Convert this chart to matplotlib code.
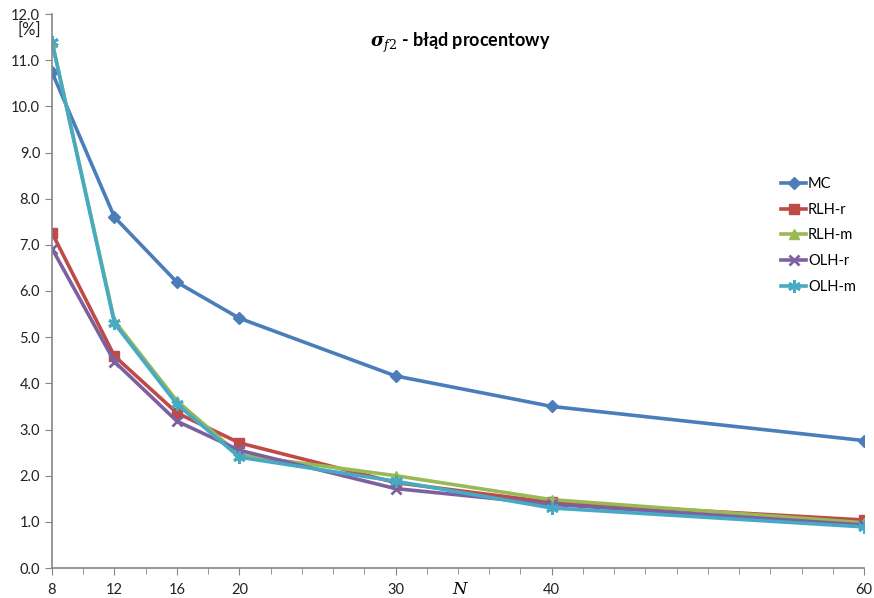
import matplotlib
matplotlib.use("Agg")
import matplotlib.pyplot as plt
from matplotlib.ticker import FixedLocator, MultipleLocator, FormatStrFormatter

plt.rcParams["font.family"] = ["Lato", "DejaVu Sans"]
plt.rcParams["mathtext.fontset"] = "dejavuserif"

n_values = [8, 12, 16, 20, 30, 40, 60]
mc = [10.74, 7.60, 6.19, 5.41, 4.16, 3.50, 2.76]
rlh_r = [7.26, 4.59, 3.36, 2.71, 1.85, 1.42, 1.04]
rlh_m = [11.40, 5.35, 3.62, 2.45, 2.00, 1.48, 0.98]
olh_r = [6.92, 4.47, 3.18, 2.55, 1.72, 1.38, 0.93]
olh_m = [11.40, 5.30, 3.55, 2.40, 1.88, 1.30, 0.89]

series = [
    ("MC", mc, "#4A7EBB", "D", 6),
    ("RLH-r", rlh_r, "#BE4B48", "s", 7),
    ("RLH-m", rlh_m, "#98B954", "^", 7),
    ("OLH-r", olh_r, "#7D60A0", "x", 7),
    ("OLH-m", olh_m, "#46AAC5", (6, 2, 0), 9),
]

fig = plt.figure(figsize=(8.74, 5.98), dpi=100)
ax = fig.add_axes([52 / 874, 30 / 598, 812 / 874, 554 / 598])

for label, values, color, marker, size in series:
    ax.plot(n_values, values, color=color, linewidth=2.6, marker=marker,
            markersize=size, markeredgewidth=2 if marker in ("x", (6, 2, 0)) else 1,
            markeredgecolor=color, markerfacecolor=color, label=label)

ax.set_xlim(8, 60)
ax.set_ylim(0, 12)
ax.xaxis.set_major_locator(FixedLocator(n_values))
ax.xaxis.set_minor_locator(MultipleLocator(2))
ax.yaxis.set_major_locator(MultipleLocator(1))
ax.yaxis.set_major_formatter(FormatStrFormatter("%.1f"))

for side in ("top", "right"):
    ax.spines[side].set_visible(False)
for side in ("left", "bottom"):
    ax.spines[side].set_color("#868686")
    ax.spines[side].set_linewidth(1.2)
ax.tick_params(axis="both", which="major", direction="out", length=5,
               color="#868686", labelsize=10.5, labelcolor="#222222")
ax.tick_params(axis="x", which="minor", direction="out", length=4, color="#868686")
ax.tick_params(axis="x", pad=6)

fig.text(29 / 874, 1 - 30 / 598, "[%]", ha="center", va="center", fontsize=12, color="#222222")
fig.text(460 / 874, 1 - 589 / 598, "N", ha="center", va="center", fontsize=12,
         family="DejaVu Serif", style="italic")
fig.text(460 / 874, 1 - 43 / 598, r"$\mathbfit{\sigma}_{f2}$ - błąd procentowy",
         ha="center", va="center", fontsize=13, fontweight="bold")

ax.legend(loc="upper left", bbox_to_anchor=(768 / 874, 1 - 164 / 598),
          bbox_transform=fig.transFigure, frameon=False, fontsize=10.5,
          labelspacing=0.8, handlelength=1.7, handletextpad=0.15)

fig.savefig("out.png", dpi=100)
